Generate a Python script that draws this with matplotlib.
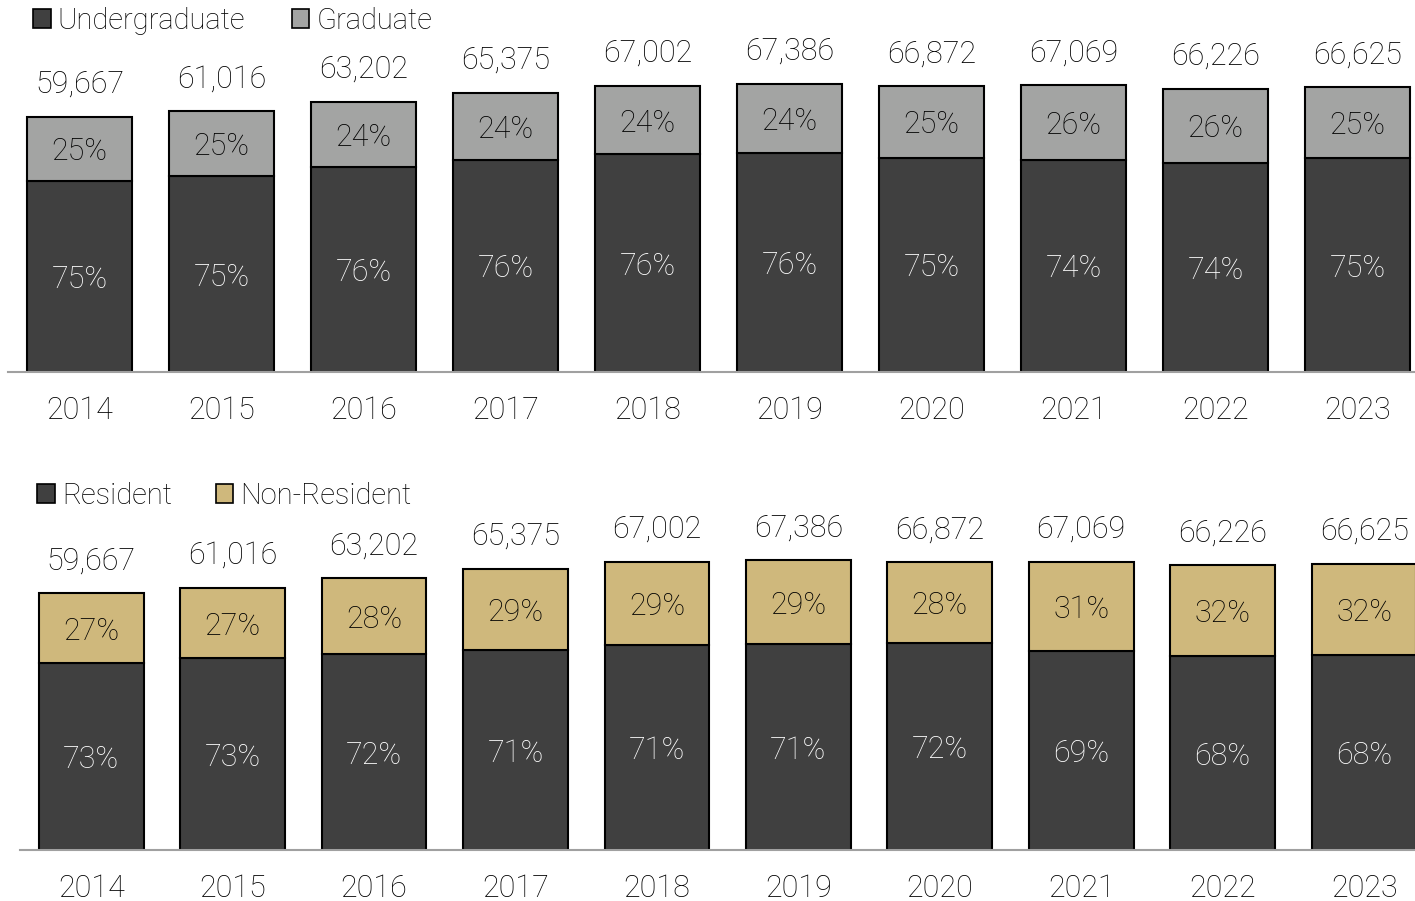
import matplotlib
matplotlib.use("Agg")
import matplotlib.pyplot as plt
from matplotlib.patches import Patch
import numpy as np

years = ["2014", "2015", "2016", "2017", "2018", "2019", "2020", "2021", "2022", "2023"]
totals = [59667, 61016, 63202, 65375, 67002, 67386, 66872, 67069, 66226, 66625]
undergrad_pct = [75, 75, 76, 76, 76, 76, 75, 74, 74, 75]
graduate_pct = [25, 25, 24, 24, 24, 24, 25, 26, 26, 25]
resident_pct = [73, 73, 72, 71, 71, 71, 72, 69, 68, 68]
nonresident_pct = [27, 27, 28, 29, 29, 29, 28, 31, 32, 32]

DARK = "#404040"
GRAY = "#A3A4A3"
GOLD = "#CFB87C"

plt.rcParams['font.family'] = ['Roboto', 'DejaVu Sans']
FS = 22
LFS = 21
WT = "light"
W, H = 1415, 901
fig = plt.figure(figsize=(W / 100, H / 100), dpi=100)


def px_axes(left, right, top, bottom):
    return fig.add_axes([left / W, 1 - bottom / H, (right - left) / W, (bottom - top) / H])


def panel(ax, low_pct, high_pct, low_col, high_col, labels, ymax, xlim, leg_anchor, colspacing):
    tot = np.array(totals, dtype=float)
    low = tot * np.array(low_pct) / 100.0
    high = tot - low
    x = np.arange(len(years))
    ax.bar(x, low, width=0.74, color=low_col, edgecolor="black", linewidth=1.5)
    ax.bar(x, high, bottom=low, width=0.74, color=high_col, edgecolor="black", linewidth=1.5)
    for i in range(len(years)):
        ax.text(x[i], low[i] / 2, f"{low_pct[i]}%", ha="center", va="center_baseline",
                color="white", fontsize=FS, fontweight=WT)
        ax.text(x[i], low[i] + high[i] / 2, f"{high_pct[i]}%", ha="center", va="center_baseline",
                color="black", fontsize=FS, fontweight=WT)
        ax.annotate(f"{totals[i]:,}", (x[i], tot[i]), xytext=(0, 13), textcoords="offset points",
                    ha="center", va="bottom", fontsize=FS, fontweight=WT)
    ax.set_xlim(*xlim)
    ax.set_ylim(0, ymax)
    ax.set_xticks(x)
    ax.set_xticklabels(years, fontsize=FS, fontweight=WT)
    ax.tick_params(axis="x", length=0, pad=17)
    ax.set_yticks([])
    for s in ["top", "left", "right"]:
        ax.spines[s].set_visible(False)
    ax.spines["bottom"].set_color("#A0A0A0")
    ax.spines["bottom"].set_linewidth(1.5)
    handles = [Patch(facecolor=low_col, edgecolor="black", linewidth=1.2),
               Patch(facecolor=high_col, edgecolor="black", linewidth=1.2)]
    ax.legend(handles, labels, loc="upper left", bbox_to_anchor=leg_anchor,
              bbox_transform=fig.transFigure, ncol=2, frameon=False,
              handlelength=0.6, handleheight=0.6, handletextpad=0.25,
              columnspacing=colspacing, borderaxespad=0, borderpad=0,
              prop={"size": LFS, "weight": WT})


ax1 = px_axes(8, 1415, 0, 372)
panel(ax1, undergrad_pct, graduate_pct, DARK, GRAY, ["Undergraduate", "Graduate"],
      87040, (-0.5035, 9.405), (33 / W, 1 - 7 / H), 1.6)

ax2 = px_axes(20, 1415, 480, 850)
panel(ax2, resident_pct, nonresident_pct, DARK, GOLD, ["Resident", "Non-Resident"],
      86050, (-0.5035, 9.36), (37 / W, 1 - 482 / H), 1.5)

fig.savefig("out.png", dpi=100)
